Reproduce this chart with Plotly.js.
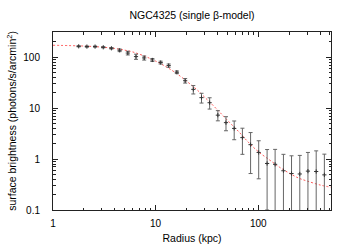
<!DOCTYPE html>
<html>
<head>
<meta charset="utf-8">
<script src="https://cdn.plot.ly/plotly-3.0.1.min.js"></script>
<style>html,body{margin:0;padding:0;background:#fff}#chart{width:350px;height:245px}</style>
</head>
<body>
<div id="chart"></div>
<script>
// Data
var radius = [1.78, 2.14, 2.57, 3.09, 3.71, 4.46, 5.36, 6.44, 7.74, 9.30, 11.2, 13.4, 16.1, 19.4, 23.3, 28.0, 33.6, 40.4, 48.5, 58.3, 70.1, 84.2, 101, 122, 146, 176, 211, 254, 305, 367, 441];
var brightness = [164, 162, 162, 157, 150, 137, 121, 103, 97, 88.5, 78.7, 68.7, 50.8, 34.6, 23.4, 16.1, 12.8, 7.29, 5.2, 4.0, 2.64, 1.92, 1.35, 0.82, 0.79, 0.59, 0.52, 0.51, 0.58, 0.57, 0.49];
var brightnessErr = [4, 4, 4, 4, 5, 8, 10, 12, 9, 6, 5, 5, 3, 3.5, 4.4, 3.5, 3.2, 1.65, 1.6, 1.6, 1.4, 1.4, 0.94, 0.72, 0.76, 0.65, 0.64, 0.67, 0.77, 0.88, 0.76];

var modelRadius = [1, 2, 3, 4, 5, 6, 8, 10, 13, 16, 20, 25, 30, 40, 50, 65, 80, 100, 130, 160, 200, 250, 300, 400, 510];
var modelValue = [172, 166, 158, 149, 138, 127, 103, 84, 63, 48, 34, 23.5, 16.5, 9.3, 5.8, 3.4, 2.15, 1.4, 0.95, 0.7, 0.53, 0.42, 0.37, 0.31, 0.28];

var xMajor = [1, 10, 100];
var xMajorText = ['1', '10', '100'];
var xMinor = [2, 3, 4, 5, 6, 7, 8, 9, 20, 30, 40, 50, 60, 70, 80, 90, 200, 300, 400, 500];
var yMajor = [0.1, 1, 10, 100];
var yMajorText = ['0.1', '1', '10', '100'];
var yMinor = [0.2, 0.3, 0.4, 0.5, 0.6, 0.7, 0.8, 0.9, 2, 3, 4, 5, 6, 7, 8, 9, 20, 30, 40, 50, 60, 70, 80, 90, 200, 300];

var font = 'Liberation Sans, Arial, Helvetica, sans-serif';

var traces = [
  {
    x: modelRadius, y: modelValue, type: 'scatter', mode: 'lines',
    line: {color: '#ff5a5a', width: 1, dash: '2px,2px', shape: 'spline'},
    showlegend: false, hoverinfo: 'skip'
  },
  {
    x: radius, y: brightness, type: 'scatter', mode: 'markers',
    marker: {symbol: 'cross-thin', size: 3, color: '#333', line: {width: 1, color: '#333'}},
    error_y: {type: 'data', array: brightnessErr, visible: true, color: '#666', thickness: 1, width: 2},
    showlegend: false, hoverinfo: 'skip'
  }
];

var axisCommon = {
  type: 'log', showgrid: false, zeroline: false,
  showline: true, linecolor: '#222', linewidth: 1, mirror: 'ticks',
  ticks: 'inside', ticklen: 5, tickcolor: '#222', tickwidth: 1,
  tickfont: {family: font, size: 10, color: '#000'}
};

var layout = {
  width: 350, height: 245,
  margin: {l: 53, r: 19, t: 32, b: 35},
  paper_bgcolor: '#fff', plot_bgcolor: '#fff',
  title: {text: 'NGC4325 (single β-model)', font: {family: font, size: 10.5, color: '#000'},
          x: 0.5486, xanchor: 'center', y: 0.939, yanchor: 'middle', xref: 'container', yref: 'container'},
  xaxis: Object.assign({}, axisCommon, {
    range: [0, 2.709],
    tickmode: 'array', tickvals: xMajor, ticktext: xMajorText,
    minor: {tickmode: 'array', tickvals: xMinor, ticks: 'inside', ticklen: 2.5, tickcolor: '#222', showgrid: false},
    ticklabelstandoff: 4,
    title: {text: 'Radius (kpc)', font: {family: font, size: 10.5, color: '#000'}, standoff: 6}
  }),
  yaxis: Object.assign({}, axisCommon, {
    range: [-1, 2.496],
    tickmode: 'array', tickvals: yMajor, ticktext: yMajorText,
    minor: {tickmode: 'array', tickvals: yMinor, ticks: 'inside', ticklen: 2.5, tickcolor: '#222', showgrid: false},
    ticklabelstandoff: 10,
    title: {text: 'surface brightness (photons/s/arcmin<sup>2</sup>)', font: {family: font, size: 10.5, color: '#000'}, standoff: 4}
  })
};

Plotly.newPlot('chart', traces, layout, {displayModeBar: false, staticPlot: true});
</script>
</body>
</html>
